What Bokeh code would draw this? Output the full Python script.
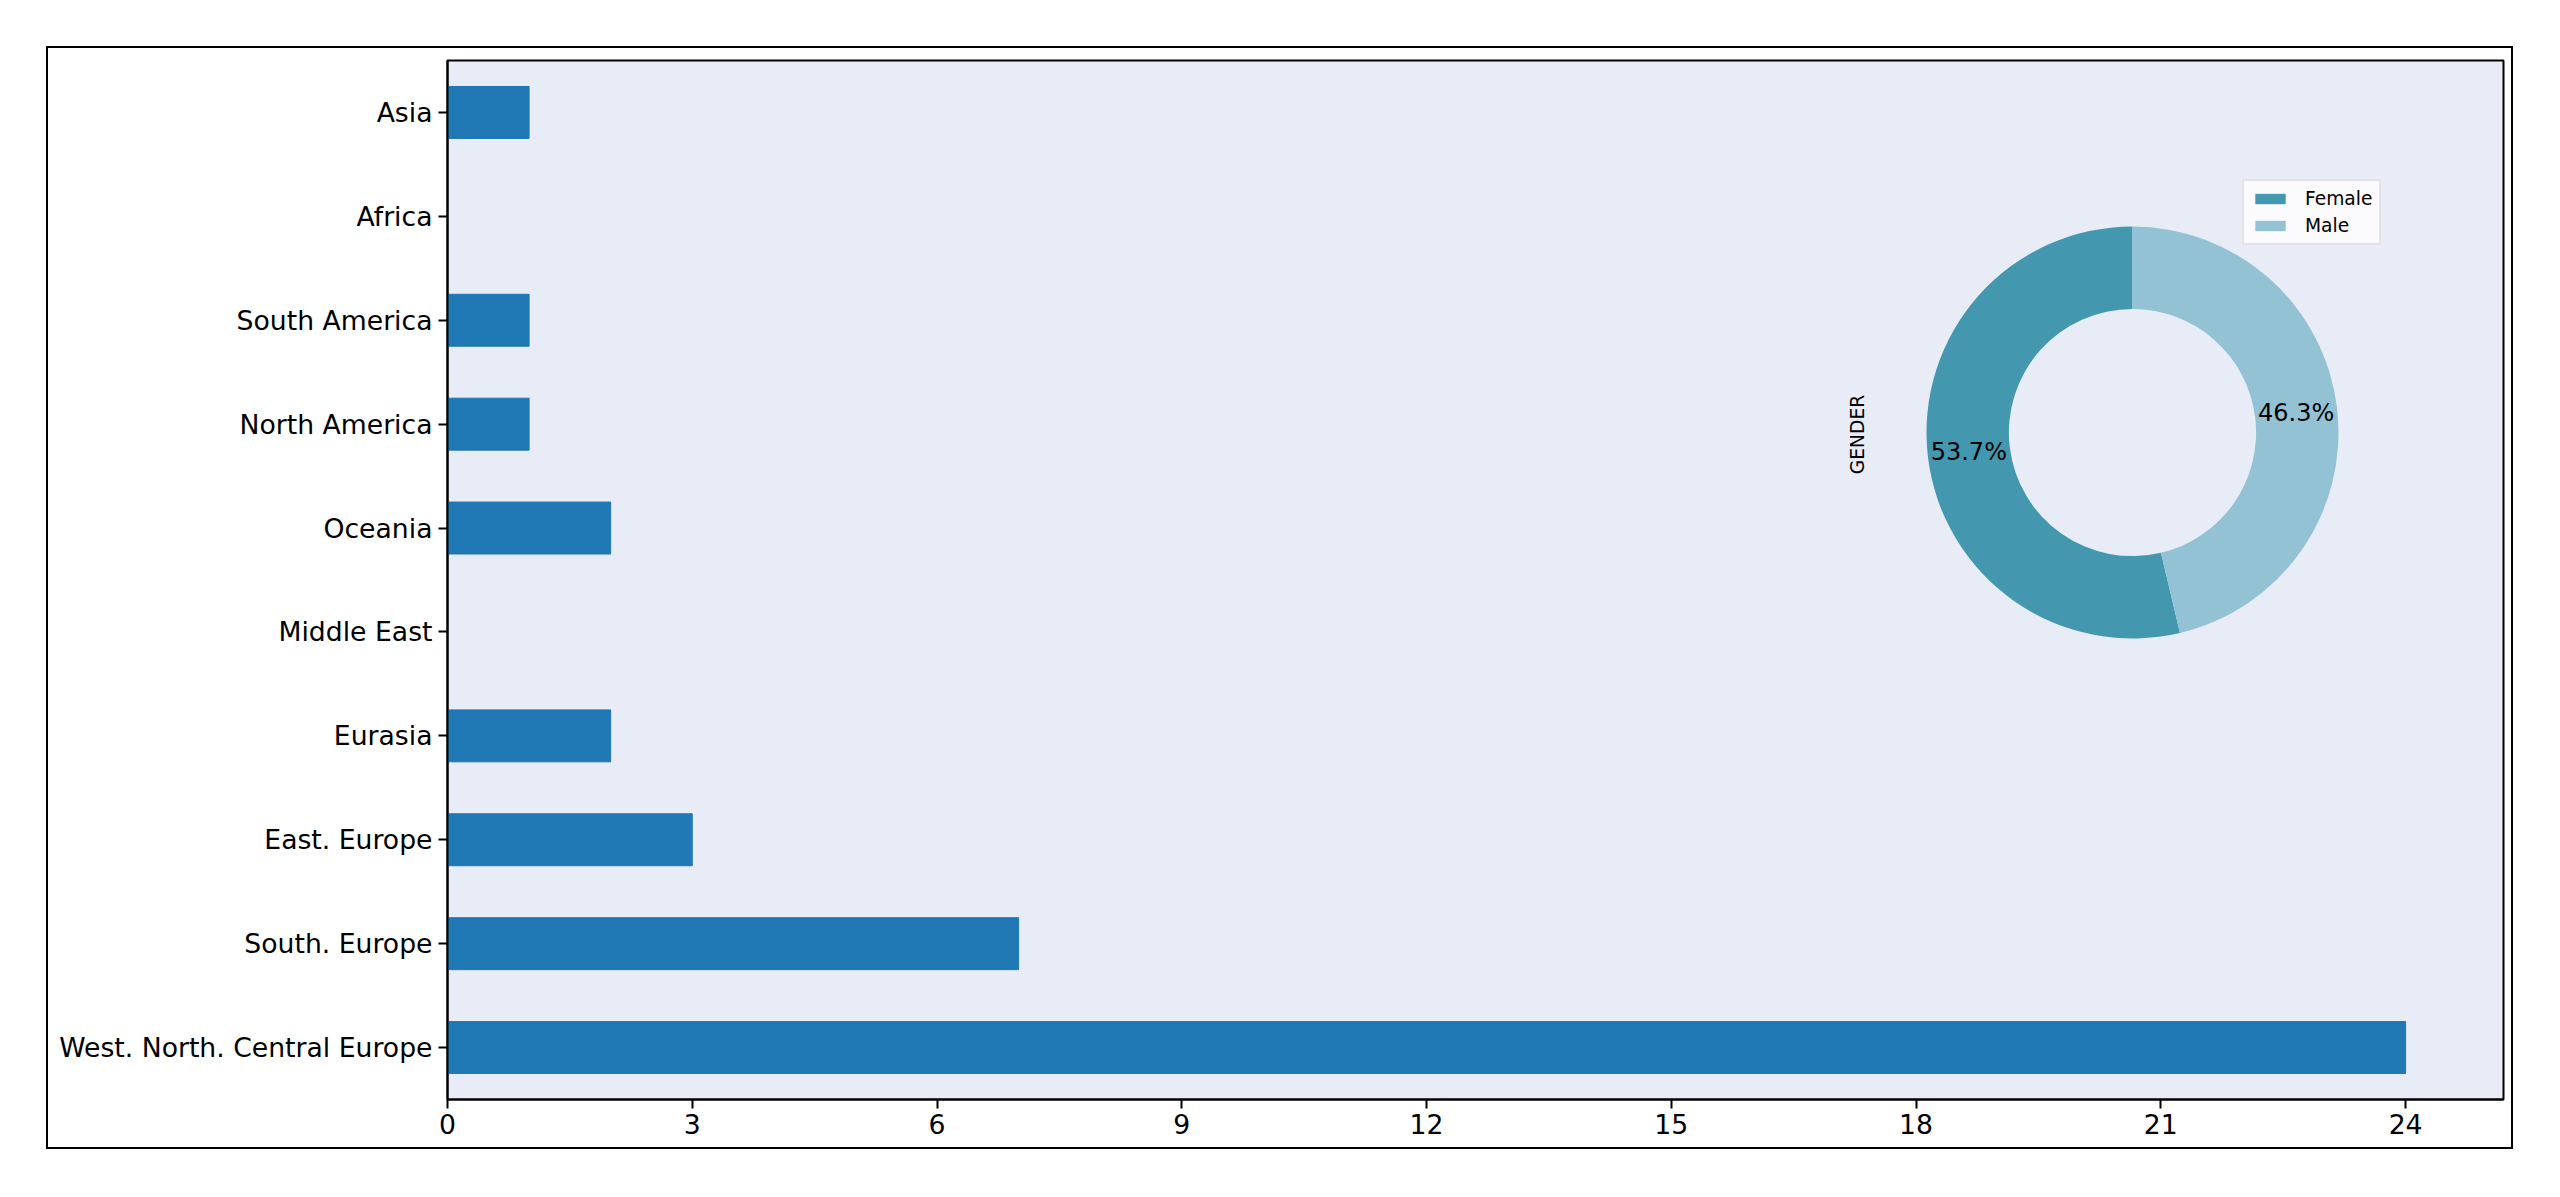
import math
from bokeh.plotting import figure
from bokeh.models import Range1d, FixedTicker, ColumnDataSource, Legend, LegendItem
from bokeh.core.properties import value
from bokeh.embed import file_html
from bokeh.resources import INLINE

# ---------------- data ----------------
regions = ["West. North. Central Europe", "South. Europe", "East. Europe", "Eurasia",
           "Middle East", "Oceania", "North America", "South America", "Africa", "Asia"]
counts = [24, 7, 3, 2, 0, 2, 1, 1, 0, 1]
x_ticks = [0, 3, 6, 9, 12, 15, 18, 21, 24]

gender_labels = ["Female", "Male"]
gender_share = [53.7, 46.3]
gender_colors = ["#4398B0", "#93C2D4"]

# ---------------- layout constants ----------------
FONT = "DejaVu Sans"
W, H = 2467, 1103
ML, MR, MT, MB = 399, 12, 12, 52
FW, FH = W - ML - MR, H - MT - MB
PIE_CX, PIE_CY = 1685, 667
PIE_R = 206
PIE_HOLE = 0.6
PCT_DIST = 0.8

ypos = list(range(len(regions)))

p = figure(width=W, height=H, output_backend="svg", toolbar_location=None,
           y_range=Range1d(-0.5, len(regions) - 0.5), x_range=Range1d(0, 25.2),
           min_border_left=ML, min_border_right=MR, min_border_top=MT, min_border_bottom=MB)
p.styles = {"margin-left": "46px", "margin-top": "46px", "border": "2px solid black"}
p.background_fill_color = "#E8ECF6"
p.border_fill_color = "white"
p.outline_line_color = "black"
p.outline_line_width = 2
p.xgrid.visible = False
p.ygrid.visible = False

src = ColumnDataSource(dict(y=ypos, count=counts))
p.hbar(y="y", right="count", left=0, height=0.5, source=src,
       fill_color="#1F77B4", line_color="#1F77B4", line_width=1)

for ax in (p.xaxis[0], p.yaxis[0]):
    ax.axis_line_color = "black"
    ax.axis_line_width = 2
    ax.major_tick_line_color = "black"
    ax.major_tick_line_width = 2
    ax.major_tick_out = 9
    ax.major_tick_in = 0
    ax.minor_tick_line_color = None
    ax.major_label_text_font = FONT
    ax.major_label_text_font_size = "26.67px"
    ax.major_label_text_color = "black"
p.xaxis[0].ticker = FixedTicker(ticks=x_ticks)
p.xaxis[0].major_label_standoff = 5
p.yaxis[0].ticker = FixedTicker(ticks=ypos)
p.yaxis[0].major_label_overrides = {i: r for i, r in zip(ypos, regions)}
p.yaxis[0].major_label_standoff = 6

# ---------------- donut in pixel-space ranges ----------------
p.extra_x_ranges = {"px": Range1d(0, FW)}
p.extra_y_ranges = {"py": Range1d(0, FH)}

total = sum(gender_share)
starts, ends, lx, ly, ltxt = [], [], [], [], []
a = math.pi / 2
for s in gender_share:
    da = 2 * math.pi * s / total
    starts.append(a)
    ends.append(a + da)
    mid = a + da / 2
    lx.append(PIE_CX + PCT_DIST * PIE_R * math.cos(mid))
    ly.append(PIE_CY + PCT_DIST * PIE_R * math.sin(mid))
    ltxt.append(f"{s:.1f}%")
    a += da

wsrc = ColumnDataSource(dict(x=[PIE_CX] * len(gender_share), y=[PIE_CY] * len(gender_share),
                             start=starts, end=ends, color=gender_colors, label=gender_labels))
wr = p.annular_wedge(x="x", y="y", inner_radius=PIE_R * PIE_HOLE, outer_radius=PIE_R,
                     start_angle="start", end_angle="end", fill_color="color", line_color=None,
                     source=wsrc, x_range_name="px", y_range_name="py")

p.text(x=lx, y=ly, text=ltxt, text_font=value(FONT), text_font_size="24px",
       text_align="center", text_baseline="middle", text_color="black",
       x_range_name="px", y_range_name="py")
p.text(x=[PIE_CX - 275], y=[PIE_CY - 2], text=["GENDER"], angle=math.pi / 2,
       text_font=value(FONT), text_font_size="18.67px", text_align="center",
       text_baseline="middle", text_color="black", x_range_name="px", y_range_name="py")

legend = Legend(items=[LegendItem(label=gender_labels[i], renderers=[wr], index=i)
                       for i in range(len(gender_labels))],
                location=(1795, 854))
legend.label_text_font = FONT
legend.label_text_font_size = "18.67px"
legend.label_text_color = "black"
legend.glyph_width = 38
legend.glyph_height = 13
legend.label_standoff = 16
legend.padding = 7
legend.spacing = 6
legend.margin = 0
legend.border_line_color = "#CCCCCC"
legend.border_line_width = 2
legend.background_fill_color = "white"
legend.background_fill_alpha = 0.8
p.add_layout(legend)

open("out.html", "w").write(file_html(p, INLINE))
